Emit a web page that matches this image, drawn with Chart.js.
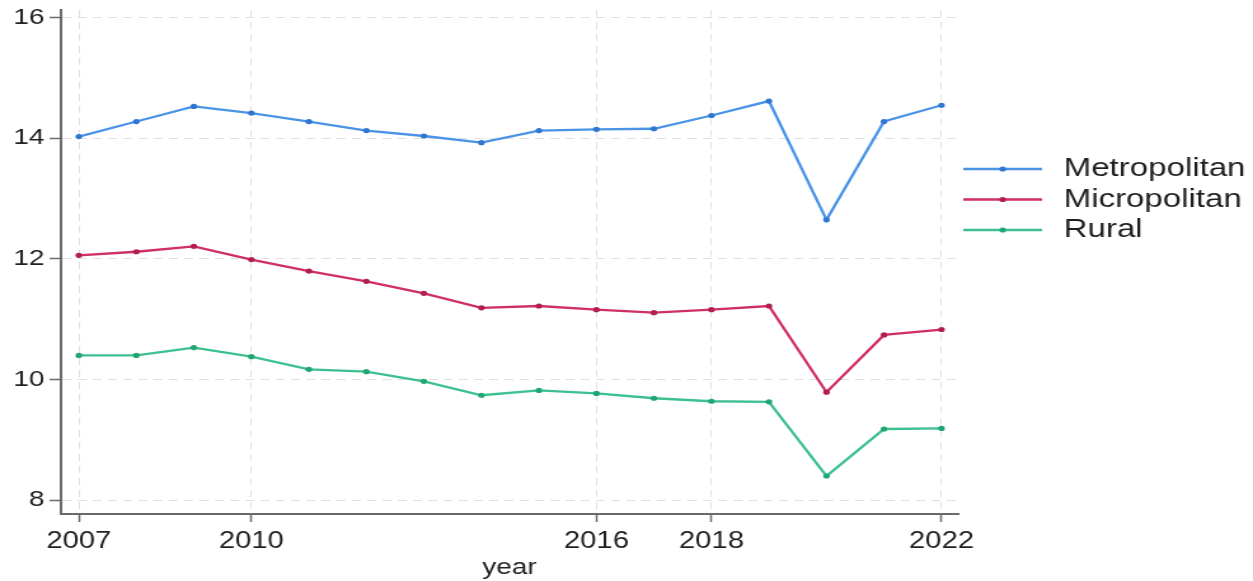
<!DOCTYPE html>
<html>
<head>
<meta charset="utf-8">
<title>Rates by area type, 2007-2022</title>
<script src="https://cdn.jsdelivr.net/npm/chart.js@4.4.0/dist/chart.umd.min.js"></script>
<style>
  html, body { margin: 0; padding: 0; background: #fff; }
  #chart { display: block; }
</style>
</head>
<body>
<!-- drawn on a narrower backing canvas, then widened by CSS (wide Stata-style export) -->
<canvas id="chart" width="986" height="581" style="width:1253px;height:581px"></canvas>
<script>
const years = [2007, 2008, 2009, 2010, 2011, 2012, 2013, 2014, 2015, 2016, 2017, 2018, 2019, 2020, 2021, 2022];
const metropolitan = [14.03, 14.28, 14.53, 14.42, 14.28, 14.13, 14.04, 13.93, 14.13, 14.15, 14.16, 14.38, 14.62, 12.65, 14.28, 14.55];
const micropolitan = [12.06, 12.12, 12.21, 11.99, 11.80, 11.63, 11.43, 11.19, 11.22, 11.16, 11.11, 11.16, 11.22, 9.79, 10.74, 10.83];
const rural = [10.40, 10.40, 10.53, 10.38, 10.17, 10.13, 9.97, 9.74, 9.82, 9.77, 9.69, 9.64, 9.63, 8.40, 9.18, 9.19];

const xTickYears = [2007, 2010, 2016, 2018, 2022];
const yTickValues = [8, 10, 12, 14, 16];

const FONT = "'Liberation Sans', Arial, Helvetica, sans-serif";
const TEXT = '#1f1f1f';
const AXIS = '#6a6a6a';
const GRID = '#e0e0e0';

const toPoints = (values) => values.map((v, i) => ({ x: years[i], y: v }));

const series = [
  { label: 'Metropolitan', data: metropolitan, color: '#4a93e6', dot: '#2f76cf' },
  { label: 'Micropolitan', data: micropolitan, color: '#cf2f62', dot: '#b01f4e' },
  { label: 'Rural', data: rural, color: '#3cc08e', dot: '#22a574' }
];

// legend drawn to the right of the plot: short line with a dot, then the label
const sideLegend = {
  id: 'sideLegend',
  afterDraw(chart, args, opts) {
    const ctx = chart.ctx;
    const x0 = chart.chartArea.right + opts.gap;
    ctx.save();
    ctx.font = `${opts.fontSize}px ${FONT}`;
    ctx.textBaseline = 'middle';
    chart.data.datasets.forEach((ds, i) => {
      const y = opts.top + i * opts.rowHeight;
      ctx.strokeStyle = ds.borderColor;
      ctx.lineWidth = 2.3;
      ctx.beginPath();
      ctx.moveTo(x0, y);
      ctx.lineTo(x0 + opts.lineLength, y);
      ctx.stroke();
      ctx.fillStyle = ds.pointBackgroundColor;
      ctx.beginPath();
      ctx.arc(x0 + opts.lineLength / 2, y, 2.6, 0, Math.PI * 2);
      ctx.fill();
      ctx.fillStyle = TEXT;
      ctx.fillText(ds.label, x0 + opts.lineLength + opts.textGap, y);
    });
    ctx.restore();
  }
};

// keep the plot box where the layout padding puts it (no room reserved for end labels)
const noEdgePadding = (scale) => {
  scale.paddingTop = 0;
  scale.paddingBottom = 0;
};

new Chart(document.getElementById('chart'), {
  type: 'line',
  data: {
    datasets: series.map(s => ({
      label: s.label,
      data: toPoints(s.data),
      borderColor: s.color,
      backgroundColor: s.color,
      pointBackgroundColor: s.dot,
      pointBorderWidth: 0,
      pointRadius: 2.6,
      borderWidth: 2.3,
      tension: 0
    }))
  },
  options: {
    responsive: false,
    animation: false,
    devicePixelRatio: 1,
    layout: { padding: { top: 10, right: 232, left: 0, bottom: 0 } },
    plugins: {
      legend: { display: false },
      tooltip: { enabled: false },
      sideLegend: { gap: 4, lineLength: 62, textGap: 17, top: 169, rowHeight: 30.5, fontSize: 26 }
    },
    scales: {
      x: {
        type: 'linear',
        min: 2006.69,
        max: 2022.29,
        afterBuildTicks: (scale) => { scale.ticks = xTickYears.map(v => ({ value: v })); },
        ticks: {
          color: TEXT,
          font: { family: FONT, size: 23 },
          padding: 6,
          maxRotation: 0,
          callback: (v) => String(v)
        },
        grid: { color: GRID, lineWidth: 1, tickColor: AXIS, tickLength: 8, tickWidth: 1.5 },
        border: { display: true, color: AXIS, width: 2, dash: [7, 5] },
        title: {
          display: true,
          text: 'year',
          color: TEXT,
          font: { family: FONT, size: 22 },
          padding: { top: 0, bottom: 0 }
        },
        afterFit: (scale) => { scale.height = 67; }
      },
      y: {
        min: 7.77,
        max: 16.13,
        afterBuildTicks: (scale) => { scale.ticks = yTickValues.map(v => ({ value: v })); },
        ticks: {
          color: TEXT,
          font: { family: FONT, size: 22 },
          padding: 4
        },
        grid: { color: GRID, lineWidth: 1, tickColor: AXIS, tickLength: 9, tickWidth: 1.5 },
        border: { display: true, color: AXIS, width: 2, dash: [7, 5] },
        afterFit: (scale) => { scale.width = 48; noEdgePadding(scale); }
      }
    }
  },
  plugins: [sideLegend]
});
</script>
</body>
</html>
